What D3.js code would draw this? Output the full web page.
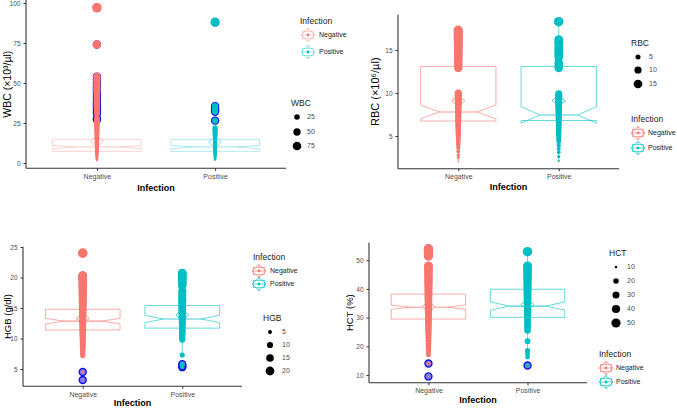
<!DOCTYPE html>
<html><head><meta charset="utf-8">
<script src="https://cdn.jsdelivr.net/npm/d3@7"></script>
<style>body{margin:0;background:#fff} svg{display:block} text{font-family:"Liberation Sans",Arial,sans-serif}</style>
</head><body><svg id="c" width="677" height="410"></svg>
<script>
const groups = ["Negative", "Positive"];
const groupColors = ["#F8766D", "#00BFC4"];

// ---- WBC ----
const wbcNeg = [1.5,2,2.5,3,3.5,4,4.5,5,5.5,6,6.5,7,7.5,8,8.5,9,9.5,10,10.5,11,11.5,12,12.5,13,13.5,14,14.5,15,15.5,16,17,18,19,20,21,22,23,24,25,26,27,28,31,32,34,35,36,37,38,40,42,44,45,46,47,48,50,52,54,74,97];
const wbcPos = [2,2.5,3,3.5,4,4.5,5,5.5,6,6.5,7,7.5,8,8.5,9,9.5,10,10.5,11,11.5,12,13,14,15,16,17,18,19,20,21,22,26.5,32,33,34,35.5,88];
const wbcLower = [7.3, 7.3], wbcNotchLo = [9.0, 8.9], wbcMedian = [10.0, 10.0], wbcNotchHi = [11.0, 11.1], wbcUpper = [14.8, 14.8], wbcMean = [13.6, 13.1];
const wbcTicks = [0, 25, 50, 75, 100];
const wbcBreaks = [25, 50, 75];

// ---- RBC ----
const rbcNeg = [2.0,2.5,2.8,3.2,3.6,3.9,4.1,4.3,4.5,4.7,4.9,5.1,5.3,5.5,5.7,5.9,6.1,6.3,6.5,6.7,6.9,7.1,7.3,7.5,7.7,7.9,8.1,8.3,8.5,8.7,8.9,9.1,9.3,9.5,9.7,9.9,10.0,12.9,13.1,13.3,13.5,13.7,13.9,14.1,14.3,14.5,14.7,14.9,15.1,15.3,15.5,15.7,15.9,16.1,16.3,16.5,16.7,16.9,17.1,17.3];
const rbcPos = [2.1,2.6,3.1,3.5,3.9,4.3,4.5,4.7,4.9,5.1,5.3,5.5,5.7,5.9,6.1,6.3,6.5,6.7,6.9,7.1,7.3,7.5,7.7,7.9,8.1,8.3,8.5,8.7,8.9,9.1,9.3,9.5,9.7,9.9,12.9,13.1,13.3,13.5,14.1,14.4,14.7,15.0,15.3,15.8,16.2,18.3];
const rbcLower = [6.74, 6.8], rbcNotchLo = [7.0, 6.5], rbcMedian = [7.8, 7.45], rbcNotchHi = [8.6, 8.4], rbcUpper = [13.1, 13.1], rbcMean = [9.1, 9.1];
const rbcTicks = [5, 10, 15];
const rbcBreaks = [5, 10, 15];

// ---- HGB ----
const hgbNeg = [3.2,4.5,7.2,7.6,8.0,8.3,8.6,8.9,9.2,9.5,9.8,10.1,10.4,10.7,11.0,11.3,11.6,11.9,12.2,12.5,12.8,13.1,13.4,13.7,14.0,14.3,14.6,14.9,15.2,15.5,15.8,16.1,16.4,16.7,17.0,17.3,17.6,17.9,18.2,18.5,18.8,19.1,19.4,19.7,20.0,20.3,24.0];
const hgbPos = [5.3,5.5,5.8,7.3,9.8,10.1,10.4,10.7,11.0,11.3,11.6,11.9,12.2,12.5,12.8,13.1,13.4,13.7,14.0,14.3,14.6,14.9,15.2,15.5,15.8,16.1,16.4,16.7,17.2,17.8,18.7,19.0,19.3,19.6,19.9,20.2,20.5,20.7];
const hgbLower = [11.4, 11.7], hgbNotchLo = [12.4, 12.6], hgbMedian = [12.85, 13.2], hgbNotchHi = [13.3, 13.8], hgbUpper = [14.8, 15.4], hgbMean = [13.3, 13.85];
const hgbTicks = [5, 10, 15, 20, 25];
const hgbBreaks = [5, 10, 15, 20];

// ---- HCT ----
const hctNeg = [9.5,14.0,17,18,19,20,21,22,23,24,25,26,27,28,29,30,31,32,33,34,35,36,37,38,39,40,41,42,43,44,45,46,47,48,51.5,52.3,53.2,54.0];
const hctPos = [13.3,16.3,17.4,18.5,21.8,25.5,26,27,28,29,30,31,32,33,34,35,36,37,38,39,40,41,42,43,44,45,46,47,48,53.0];
const hctLower = [29.5, 30.1], hctNotchLo = [32.9, 32.6], hctMedian = [33.6, 34.0], hctNotchHi = [34.4, 35.5], hctUpper = [38.2, 39.9], hctMean = [33.8, 34.6];
const hctTicks = [10, 20, 30, 40, 50];
const hctBreaks = [10, 20, 30, 40, 50];

const panels = [
  { name: "WBC", ytitle: "WBC (×10³/µl)", vals: [wbcNeg, wbcPos], lower: wbcLower, nlo: wbcNotchLo, med: wbcMedian, nhi: wbcNotchHi, upper: wbcUpper, mean: wbcMean, ticks: wbcTicks, breaks: wbcBreaks,
    L: 26, R: 286, T: 0.1, B: 168.3, ytx: 7, ytfs: 10.5, xty: 188, boxOp: 0.4,
    infLeg: { tx: 300, ty: 21, kx: 308, ky: [35, 52], lx: 319 }, sizeLeg: { tx: 291, ty: 103, dx: 297, dy: [117, 132, 146], lx: 307 } },
  { name: "RBC", ytitle: "RBC (×10⁶/µl)", vals: [rbcNeg, rbcPos], lower: rbcLower, nlo: rbcNotchLo, med: rbcMedian, nhi: rbcNotchHi, upper: rbcUpper, mean: rbcMean, ticks: rbcTicks, breaks: rbcBreaks,
    L: 398, R: 619, T: 14.7, B: 168.8, ytx: 375, ytfs: 11, xty: 187, boxOp: 0.75,
    infLeg: { tx: 631, ty: 119, kx: 638, ky: [133, 148], lx: 648 }, sizeLeg: { tx: 631, ty: 43, dx: 638, dy: [57, 70, 84], lx: 649 } },
  { name: "HGB", ytitle: "HGB (g/dl)", vals: [hgbNeg, hgbPos], lower: hgbLower, nlo: hgbNotchLo, med: hgbMedian, nhi: hgbNotchHi, upper: hgbUpper, mean: hgbMean, ticks: hgbTicks, breaks: hgbBreaks,
    L: 23, R: 242, T: 246.8, B: 386.3, ytx: 8, ytfs: 9.5, xty: 403, boxOp: 0.75,
    infLeg: { tx: 253, ty: 257, kx: 259, ky: [271, 284], lx: 270 }, sizeLeg: { tx: 263, ty: 318, dx: 270, dy: [332, 345, 358, 371], lx: 282 } },
  { name: "HCT", ytitle: "HCT (%)", vals: [hctNeg, hctPos], lower: hctLower, nlo: hctNotchLo, med: hctMedian, nhi: hctNotchHi, upper: hctUpper, mean: hctMean, ticks: hctTicks, breaks: hctBreaks,
    L: 369, R: 587, T: 242.4, B: 382.8, ytx: 350, ytfs: 9.5, xty: 400, boxOp: 0.75,
    infLeg: { tx: 599, ty: 354, kx: 606, ky: [368, 382], lx: 616 }, sizeLeg: { tx: 609, ty: 253, dx: 616, dy: [267, 281, 295, 309, 323], lx: 627 } }
];

const svg = d3.select("#c");

function drawKey(g, cx, cy, col, op) {
  const k = g.append("g").attr("transform", `translate(${cx},${cy})`);
  k.append("line").attr("x1", 0).attr("x2", 0).attr("y1", -7).attr("y2", -3.5).attr("stroke", col).attr("stroke-opacity", op).attr("stroke-width", 0.8);
  k.append("line").attr("x1", 0).attr("x2", 0).attr("y1", 3.5).attr("y2", 7).attr("stroke", col).attr("stroke-opacity", op).attr("stroke-width", 0.8);
  k.append("rect").attr("x", -5.5).attr("y", -3.5).attr("width", 11).attr("height", 7).attr("fill", "#fff").attr("stroke", col).attr("stroke-opacity", op).attr("stroke-width", 0.8);
  k.append("line").attr("x1", -5.5).attr("x2", 5.5).attr("y1", 0).attr("y2", 0).attr("stroke", col).attr("stroke-opacity", op).attr("stroke-width", 0.8);
  k.append("path").attr("d", "M0,-6.5L7,0L0,6.5L-7,0Z").attr("fill", "none").attr("stroke", col).attr("stroke-opacity", Math.min(1, op + 0.15)).attr("stroke-width", 0.8);
  k.append("circle").attr("r", 1.4).attr("fill", col);
}

panels.forEach(p => {
  const g = svg.append("g");
  const all = p.vals[0].concat(p.vals[1]);
  const ext = d3.extent(all);
  const span = ext[1] - ext[0];
  const y = d3.scaleLinear().domain([ext[0] - 0.05 * span, ext[1] + 0.05 * span]).range([p.B, p.T]);
  const x = d3.scalePoint().domain(groups).range([p.L, p.R]).padding(0.6);
  const bw = 0.75 * x.step();
  const unit = d3.scaleLinear().domain(ext).range([0, 1]).clamp(true);
  const rad = d3.scaleLinear().domain([0, 1]).range([0.8, 4.8]);
  const size = v => rad(Math.sqrt(unit(v)));

  groups.forEach((grp, i) => {
    const cx = x(grp), col = groupColors[i];
    const lo = p.lower[i], up = p.upper[i], iqr = up - lo;
    const fLo = lo - 1.5 * iqr, fHi = up + 1.5 * iqr;
    const inside = p.vals[i].filter(v => v >= fLo && v <= fHi);
    const wMin = d3.min(inside), wMax = d3.max(inside);
    const bg = g.append("g").attr("stroke", col).attr("stroke-opacity", p.boxOp).attr("stroke-width", 0.8).attr("fill", "none");
    bg.append("line").attr("x1", cx).attr("x2", cx).attr("y1", y(up)).attr("y2", y(wMax));
    bg.append("line").attr("x1", cx).attr("x2", cx).attr("y1", y(lo)).attr("y2", y(wMin));
    const xmin = cx - bw / 2, xmax = cx + bw / 2, nxmin = cx - bw / 4, nxmax = cx + bw / 4;
    const pts = [[xmin, up], [xmin, p.nhi[i]], [nxmin, p.med[i]], [xmin, p.nlo[i]], [xmin, lo], [xmax, lo], [xmax, p.nlo[i]], [nxmax, p.med[i]], [xmax, p.nhi[i]], [xmax, up]];
    bg.append("path").attr("fill", "#fff").attr("fill-opacity", 0.001)
      .attr("d", d3.line().x(d => d[0]).y(d => y(d[1]))(pts) + "Z");
    bg.append("line").attr("x1", nxmin).attr("x2", nxmax).attr("y1", y(p.med[i])).attr("y2", y(p.med[i])).attr("stroke-width", 1.1);
    // outliers
    g.selectAll(null).data(p.vals[i].filter(v => v < fLo || v > fHi)).join("circle")
      .attr("cx", cx).attr("cy", d => y(d)).attr("r", 3.5)
      .attr("fill", "#7a7aff").attr("stroke", "#1010e0").attr("stroke-width", 1.4);
    // mean diamond
    const my = y(p.mean[i]);
    g.append("path").attr("d", `M${cx},${my - 5.5}L${cx + 6.5},${my}L${cx},${my + 5.5}L${cx - 6.5},${my}Z`)
      .attr("fill", "#fff").attr("stroke", col).attr("stroke-opacity", Math.min(1, p.boxOp + 0.2)).attr("stroke-width", 0.8);
    // points
    g.selectAll(null).data(p.vals[i]).join("circle")
      .attr("cx", cx).attr("cy", d => y(d)).attr("r", d => size(d)).attr("fill", col);
  });

  // axes
  const ya = g.append("g").attr("transform", `translate(${p.L},0)`)
    .call(d3.axisLeft(y).tickValues(p.ticks).tickSize(2.5).tickPadding(3).tickFormat(d3.format("d")));
  const xa = g.append("g").attr("transform", `translate(0,${p.B})`)
    .call(d3.axisBottom(x).tickSize(2.5).tickPadding(3));
  [ya, xa].forEach(a => {
    a.select(".domain").remove();
    a.selectAll(".tick line").attr("stroke", "#333");
    a.selectAll("text").attr("fill", "#4D4D4D").style("font-size", "7px");
  });
  ya.selectAll("text").style("font-size", "6.5px");
  g.append("line").attr("x1", p.L).attr("x2", p.L).attr("y1", p.T).attr("y2", p.B).attr("stroke", "#333").attr("stroke-width", 1.1);
  g.append("line").attr("x1", p.L).attr("x2", p.R).attr("y1", p.B).attr("y2", p.B).attr("stroke", "#333").attr("stroke-width", 1.1);

  g.append("text").attr("x", (p.L + p.R) / 2).attr("y", p.xty).attr("dy", "0.35em").attr("text-anchor", "middle")
    .style("font-size", "9px").style("font-weight", "bold").text("Infection");
  g.append("text").attr("transform", `translate(${p.ytx},${(p.T + p.B) / 2}) rotate(-90)`).attr("dy", "0.35em").attr("text-anchor", "middle")
    .style("font-size", p.ytfs + "px").text(p.ytitle);

  // Infection legend
  const il = p.infLeg;
  g.append("text").attr("x", il.tx).attr("y", il.ty).attr("dy", "0.35em").style("font-size", "8.5px").attr("fill", "#1a1a1a").text("Infection");
  groups.forEach((grp, i) => {
    drawKey(g, il.kx, il.ky[i], groupColors[i], p.boxOp);
    g.append("text").attr("x", il.lx).attr("y", il.ky[i]).attr("dy", "0.35em").style("font-size", "7px").attr("fill", "#1a1a1a").text(grp);
  });
  // size legend
  const sl = p.sizeLeg;
  g.append("text").attr("x", sl.tx).attr("y", sl.ty).attr("dy", "0.35em").style("font-size", "8.5px").attr("fill", "#1a1a1a").text(p.name);
  p.breaks.forEach((b, j) => {
    g.append("circle").attr("cx", sl.dx).attr("cy", sl.dy[j]).attr("r", size(b)).attr("fill", "#000");
    g.append("text").attr("x", sl.lx).attr("y", sl.dy[j]).attr("dy", "0.35em").style("font-size", "7px").attr("fill", "#4D4D4D").text(b);
  });
});
</script></body></html>
